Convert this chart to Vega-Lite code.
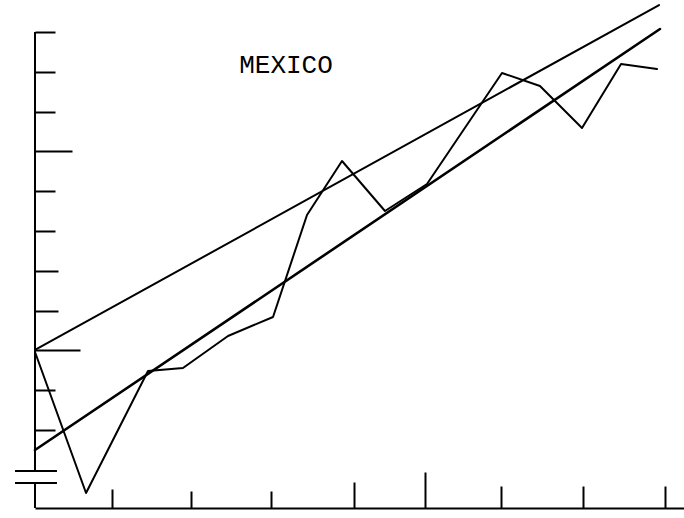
{
  "$schema": "https://vega.github.io/schema/vega-lite/v6.json",
  "width": 649,
  "height": 476,
  "autosize": {"type": "none"},
  "padding": {"left": 35, "top": 32, "right": 0, "bottom": 10},
  "background": "white",
  "config": {"view": {"stroke": null}},
  "datasets": {
    "lines": [
      {"series": "Mexico", "i": 1, "x": 0, "y": 2.96},
      {"series": "Mexico", "i": 2, "x": 0.646, "y": -0.583},
      {"series": "Mexico", "i": 3, "x": 1.43, "y": 2.482},
      {"series": "Mexico", "i": 4, "x": 1.873, "y": 2.558},
      {"series": "Mexico", "i": 5, "x": 2.443, "y": 3.362},
      {"series": "Mexico", "i": 6, "x": 3.013, "y": 3.839},
      {"series": "Mexico", "i": 7, "x": 3.443, "y": 6.402},
      {"series": "Mexico", "i": 8, "x": 3.886, "y": 7.759},
      {"series": "Mexico", "i": 9, "x": 4.43, "y": 6.503},
      {"series": "Mexico", "i": 10, "x": 4.962, "y": 7.181},
      {"series": "Mexico", "i": 11, "x": 5.911, "y": 9.97},
      {"series": "Mexico", "i": 12, "x": 6.392, "y": 9.643},
      {"series": "Mexico", "i": 13, "x": 6.924, "y": 8.588},
      {"series": "Mexico", "i": 14, "x": 7.418, "y": 10.196},
      {"series": "Mexico", "i": 15, "x": 7.873, "y": 10.07},
      {"series": "Upper trend", "i": 1, "x": 0, "y": 3.01},
      {"series": "Upper trend", "i": 2, "x": 7.899, "y": 11.678},
      {"series": "Lower trend", "i": 1, "x": 0, "y": 0.497},
      {"series": "Lower trend", "i": 2, "x": 7.911, "y": 11.075}
    ],
    "frame": [
      {"part": "axis upper", "x": 0, "x2": 0, "y": -0.03, "y2": 11},
      {"part": "axis lower", "x": 0, "x2": 0, "y": -0.96, "y2": -0.332},
      {"part": "break upper", "x": -0.253, "x2": 0.278, "y": -0.03, "y2": -0.03},
      {"part": "break lower", "x": -0.253, "x2": 0.278, "y": -0.332, "y2": -0.332}
    ],
    "title": [
      {"label": "MEXICO", "x": 3.177, "y": 9.97}
    ]
  },
  "layer": [
    {
      "data": {"name": "lines"},
      "mark": {"type": "line", "color": "black", "strokeCap": "round", "strokeJoin": "round", "clip": false},
      "encoding": {
        "x": {
          "field": "x", "type": "quantitative",
          "scale": {"domain": [0, 8.215], "nice": false, "zero": false},
          "axis": {
            "values": [0.975, 1.975, 2.987, 4.038, 4.937, 5.899, 6.937, 7.975],
            "labels": false, "title": null, "grid": false,
            "domain": true, "domainColor": "black", "domainWidth": 2,
            "tickColor": "black", "tickWidth": 2,
            "tickSize": {
              "condition": [
                {"test": "datum.value > 4.5 && datum.value < 5.5", "value": -36},
                {"test": "datum.value > 3.5 && datum.value < 4.5", "value": -26},
                {"test": "datum.value > 5.5", "value": -22},
                {"test": "datum.value < 1.5", "value": -19}
              ],
              "value": -17
            }
          }
        },
        "y": {
          "field": "y", "type": "quantitative",
          "scale": {"domain": [-0.96, 11], "nice": false, "zero": false},
          "axis": {
            "values": [1, 2, 3, 4, 5, 6, 7, 8, 9, 10, 11],
            "labels": false, "title": null, "grid": false, "domain": false,
            "tickColor": "black", "tickWidth": 2,
            "tickSize": {
              "condition": [
                {"test": "datum.value == 3", "value": -45},
                {"test": "datum.value == 8", "value": -37},
                {"test": "datum.value == 4 || datum.value == 5", "value": -23}
              ],
              "value": -20
            }
          }
        },
        "strokeWidth": {"condition": {"test": "datum.series == 'Lower trend'", "value": 2.6}, "value": 2},
        "detail": {"field": "series", "type": "nominal"},
        "order": {"field": "i", "type": "quantitative"}
      }
    },
    {
      "data": {"name": "frame"},
      "mark": {"type": "rule", "color": "black", "strokeWidth": 2, "clip": false},
      "encoding": {
        "x": {"field": "x", "type": "quantitative"},
        "x2": {"field": "x2"},
        "y": {"field": "y", "type": "quantitative"},
        "y2": {"field": "y2"}
      }
    },
    {
      "data": {"name": "title"},
      "mark": {"type": "text", "font": "Liberation Mono", "fontSize": 26, "color": "black", "align": "center", "baseline": "alphabetic", "clip": false},
      "encoding": {
        "x": {"field": "x", "type": "quantitative"},
        "y": {"field": "y", "type": "quantitative"},
        "text": {"field": "label"}
      }
    }
  ]
}
